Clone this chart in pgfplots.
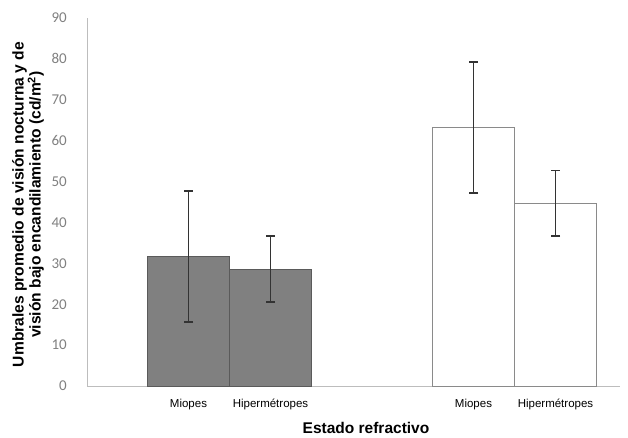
\documentclass[border=0pt]{standalone}
\usepackage{pgfplots}
\pgfplotsset{compat=1.18}
\usepackage{fontspec}
\setmainfont{Liberation Sans}
\newfontfamily\calibri{Carlito}
\definecolor{barfill}{HTML}{808080}
\definecolor{bardraw}{HTML}{5A5A5A}
\definecolor{wdraw}{HTML}{8A8A8A}
\definecolor{axisgray}{HTML}{BDBDBD}
\definecolor{tickgray}{HTML}{808080}
\begin{document}
\begin{tikzpicture}
\useasboundingbox (-87pt,-52pt) rectangle (541pt,386pt);
\begin{axis}[
  scale only axis, width=533pt, height=368pt,
  xmin=87, xmax=620, ymin=0, ymax=90,
  axis x line=bottom, axis y line=left,
  axis line style={draw=axisgray, line width=0.8pt, -},
  major tick length=0pt,
  ytick={0,10,...,90},
  /pgf/number format/assume math mode=true,
  yticklabel style={font=\calibri\fontsize{15}{15}\selectfont, text=tickgray, anchor=east, inner sep=0pt, xshift=-20pt},
  xtick={188.5,270.5,473.5,555.5},
  xticklabels={Miopes,Hipermétropes,Miopes,Hipermétropes},
  xticklabel style={font=\fontsize{11.5}{11.5}\selectfont, anchor=base, inner sep=0pt, yshift=-22pt},
  ybar, bar width=82, bar shift=0pt,
  ylabel={Umbrales promedio de visión nocturna y de\\visión bajo encandilamiento (cd/m\textsuperscript{2})},
  ylabel style={align=center, font=\bfseries\fontsize{15.6}{15}\selectfont, at={(axis description cs:-0.1107,0.493)}, anchor=center},
  xlabel={Estado refractivo},
  xlabel style={font=\bfseries\fontsize{15.5}{15.5}\selectfont, at={(axis description cs:0.5235,-0.1295)}, anchor=base, inner sep=0pt},
  error bars/y dir=both, error bars/y explicit,
  error bars/error bar style={line width=1.8pt, black!80},
  error bars/error mark options={rotate=90, mark size=4.5pt, line width=1.8pt, black!80},
  clip=false,
]
\addplot[fill=barfill, draw=bardraw, line width=0.8pt] coordinates {(188.5,31.7) +- (0,16) (270.5,28.6) +- (0,8)};
\addplot[fill=white, draw=wdraw, line width=0.8pt] coordinates {(473.5,63.2) +- (0,16) (555.5,44.7) +- (0,8)};
\end{axis}
\end{tikzpicture}
\end{document}
